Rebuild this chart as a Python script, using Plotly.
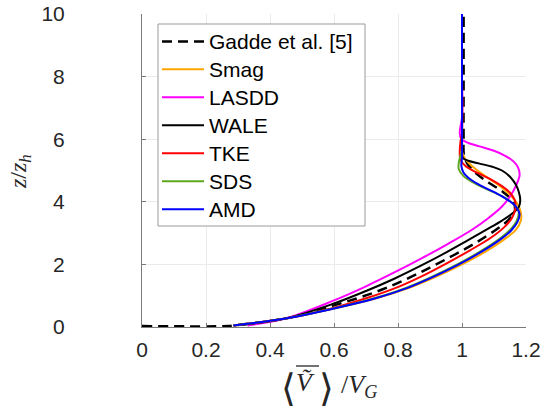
import plotly.graph_objects as go

# ---- data (x = <V>/V_G, z = z/z_h) ----
gadde_z = [0.03, 0.03, 0.05, 0.27, 0.69, 1.1, 1.5, 1.9, 2.3, 2.7, 3.1, 3.4, 3.7, 4.0, 4.3, 4.6, 4.9, 5.2, 5.5, 6.0, 8.0, 10.0]
gadde_x = [0.0, 0.27, 0.286, 0.448, 0.60, 0.725, 0.82, 0.90, 0.975, 1.045, 1.105, 1.143, 1.165, 1.16, 1.13, 1.085, 1.045, 1.018, 1.006, 1.005, 1.005, 1.005]

smag_z = [0.05, 0.27, 0.59, 0.9, 1.25, 1.6, 2.0, 2.4, 2.8, 3.1, 3.4, 3.7, 3.95, 4.2, 4.45, 4.7, 4.95, 5.2, 5.4, 5.6, 6, 8, 10]
smag_x = [0.286, 0.448, 0.60, 0.727, 0.835, 0.918, 1.0, 1.072, 1.132, 1.168, 1.184, 1.183, 1.172, 1.152, 1.125, 1.09, 1.055, 1.025, 1.008, 1.0, 1.0, 1.0, 1.0]

lasdd_z = [0.05, 0.27, 0.85, 1.3, 1.75, 2.2, 2.65, 3.1, 3.5, 3.85, 4.2, 4.55, 4.85, 5.1, 5.3, 5.47, 5.63, 5.77, 5.88, 6.0, 6.2, 6.45, 6.7, 8, 10]
lasdd_x = [0.33, 0.448, 0.60, 0.70, 0.79, 0.875, 0.955, 1.03, 1.085, 1.125, 1.152, 1.17, 1.18, 1.175, 1.16, 1.135, 1.10, 1.055, 1.02, 0.998, 0.993, 0.996, 1.0, 1.0, 1.0]

wale_z = [0.05, 0.27, 0.75, 1.15, 1.55, 1.95, 2.35, 2.75, 3.1, 3.4, 3.65, 3.85, 4.05, 4.3, 4.55, 4.8, 5.0, 5.12, 5.22, 5.31, 5.4, 5.55, 6, 8, 10]
wale_x = [0.286, 0.448, 0.60, 0.70, 0.79, 0.87, 0.945, 1.015, 1.075, 1.125, 1.16, 1.178, 1.182, 1.178, 1.168, 1.15, 1.125, 1.095, 1.055, 1.02, 1.003, 1.0, 1.0, 1.0, 1.0]

tke_z = [0.05, 0.27, 0.6, 0.95, 1.3, 1.65, 2.05, 2.45, 2.85, 3.2, 3.5, 3.8, 4.05, 4.29, 4.5, 4.72, 4.93, 5.15, 5.35, 5.6, 5.9, 6.2, 8, 10]
tke_x = [0.286, 0.448, 0.595, 0.71, 0.805, 0.88, 0.955, 1.025, 1.09, 1.133, 1.157, 1.167, 1.165, 1.15, 1.125, 1.09, 1.047, 1.01, 0.995, 0.993, 0.995, 1.0, 1.0, 1.0]

sds_z = [0.05, 0.27, 0.59, 0.9, 1.25, 1.6, 2.0, 2.4, 2.8, 3.1, 3.4, 3.7, 3.97, 4.18, 4.4, 4.61, 4.82, 5.04, 5.25, 5.47, 5.7, 6, 8, 10]
sds_x = [0.286, 0.448, 0.598, 0.72, 0.825, 0.905, 0.985, 1.055, 1.115, 1.15, 1.171, 1.177, 1.156, 1.125, 1.078, 1.036, 1.005, 0.99, 0.99, 0.995, 1.0, 1.0, 1.0, 1.0]

amd_z = [0.05, 0.27, 0.59, 0.9, 1.25, 1.6, 2.0, 2.4, 2.8, 3.1, 3.35, 3.6, 3.86, 4.08, 4.29, 4.5, 4.72, 4.93, 5.15, 5.4, 6, 8, 10]
amd_x = [0.286, 0.448, 0.60, 0.725, 0.83, 0.91, 0.99, 1.06, 1.12, 1.155, 1.173, 1.18, 1.167, 1.14, 1.104, 1.062, 1.026, 1.005, 0.998, 1.0, 1.0, 1.0, 1.0]

x_ticks = [0, 0.2, 0.4, 0.6, 0.8, 1.0, 1.2]
x_ticktext = ["0", "0.2", "0.4", "0.6", "0.8", "1", "1.2"]
y_ticks = [0, 2, 4, 6, 8, 10]

names = ["Gadde et al. [5]", "Smag", "LASDD", "WALE", "TKE", "SDS", "AMD"]
colors = ["black", "#FFA500", "#FF00FF", "black", "#FF0000", "#5FA81E", "#0000FF"]
xs_all = [gadde_x, smag_x, lasdd_x, wale_x, tke_x, sds_x, amd_x]
zs_all = [gadde_z, smag_z, lasdd_z, wale_z, tke_z, sds_z, amd_z]

DASH = "10px,6px"

fig = go.Figure()
for i, (name, xs, zs, col) in enumerate(zip(names, xs_all, zs_all, colors)):
    fig.add_trace(go.Scatter(
        x=xs, y=zs, mode="lines", name=name, showlegend=False,
        line=dict(color=col, width=2.5 if i == 0 else 2,
                  dash=DASH if i == 0 else "solid",
                  shape="spline", smoothing=1.0),
    ))

# pixel -> paper helpers (plot area: x 142..526, y 14..327)
L, R, T, B = 142, 526, 14, 327
def px(x):
    return (x - L) / (R - L)
def py(y):
    return (B - y) / (B - T)

tickfont = dict(family="Liberation Sans, Arial, sans-serif", size=21, color="#262626")
fig.update_layout(
    width=544, height=415,
    margin=dict(l=L, r=544 - R, t=T, b=415 - B),
    paper_bgcolor="white", plot_bgcolor="white",
    showlegend=False,
    xaxis=dict(
        range=[0, 1.2], tickvals=x_ticks, ticktext=x_ticktext,
        showgrid=True, gridcolor="#ebebeb", gridwidth=1,
        showline=True, linecolor="#7a7a7a", linewidth=1,
        ticks="inside", ticklen=4, tickcolor="#7a7a7a",
        tickfont=tickfont, zeroline=False, ticklabelstandoff=4, automargin=False,
    ),
    yaxis=dict(
        range=[0, 10], tickvals=y_ticks,
        showgrid=True, gridcolor="#ebebeb", gridwidth=1,
        showline=True, linecolor="#7a7a7a", linewidth=1,
        ticks="inside", ticklen=4, tickcolor="#7a7a7a",
        tickfont=tickfont, zeroline=False, ticklabelstandoff=72,
        automargin=False,
    ),
)

# ---- legend (box, swatches, labels) ----
fig.add_shape(type="rect", xref="paper", yref="paper",
              x0=px(158), x1=px(365), y0=py(226), y1=py(24),
              fillcolor="white", line=dict(color="#9a9a9a", width=1), layer="above")
row_y = [41.5, 69.3, 97.2, 125.3, 153.3, 181.3, 209.3]
for i, (name, col) in enumerate(zip(names, colors)):
    fig.add_shape(type="line", xref="paper", yref="paper",
                  x0=px(162), x1=px(204), y0=py(row_y[i]), y1=py(row_y[i]),
                  line=dict(color=col, width=2.5 if i == 0 else 2,
                            dash=DASH if i == 0 else "solid"),
                  layer="above")
    fig.add_annotation(xref="paper", yref="paper", x=px(207), y=py(row_y[i]),
                       text=name, showarrow=False, xanchor="left", yanchor="middle",
                       font=dict(family="Liberation Sans, Arial, sans-serif", size=21, color="black"))

# ---- axis titles ----
serif = "Liberation Serif, DejaVu Serif, serif"
fig.add_annotation(
    xref="paper", yref="paper", x=px(20), y=py(172),
    text="<i>z</i>/<i>z</i><sub><i>h</i></sub>", showarrow=False, textangle=-90,
    font=dict(family=serif, size=24, color="#262626"),
    xanchor="center", yanchor="middle",
)
fig.add_annotation(xref="paper", yref="paper", x=px(288), y=py(388), text="⟨",
                   showarrow=False, xanchor="center", yanchor="middle",
                   font=dict(family="DejaVu Sans, sans-serif", size=38, color="#262626"))
fig.add_annotation(xref="paper", yref="paper", x=px(305), y=py(382), text="<i>V\u0303</i>",
                   showarrow=False, xanchor="center", yanchor="middle",
                   font=dict(family=serif, size=26, color="#262626"))
fig.add_shape(type="line", xref="paper", yref="paper",
              x0=px(296), x1=px(319), y0=py(366), y1=py(366),
              line=dict(color="#262626", width=1.3))
fig.add_annotation(xref="paper", yref="paper", x=px(326), y=py(388), text="⟩",
                   showarrow=False, xanchor="center", yanchor="middle",
                   font=dict(family="DejaVu Sans, sans-serif", size=38, color="#262626"))
fig.add_annotation(xref="paper", yref="paper", x=px(339), y=py(386),
                   text="/<i>V</i><sub><i>G</i></sub>",
                   showarrow=False, xanchor="left", yanchor="middle",
                   font=dict(family=serif, size=26, color="#262626"))

fig.write_html("out.html")
